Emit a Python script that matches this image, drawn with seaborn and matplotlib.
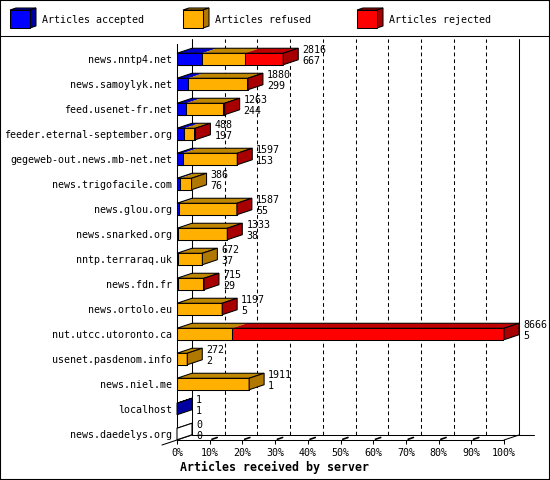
import numpy as np
import pandas as pd
import matplotlib
matplotlib.use("Agg")
import matplotlib.pyplot as plt
from matplotlib.patches import Polygon, Rectangle
from matplotlib.lines import Line2D
import seaborn as sns

# data
servers = ["news.nntp4.net", "news.samoylyk.net", "feed.usenet-fr.net",
           "feeder.eternal-september.org", "gegeweb-out.news.mb-net.net",
           "news.trigofacile.com", "news.glou.org", "news.snarked.org",
           "nntp.terraraq.uk", "news.fdn.fr", "news.ortolo.eu",
           "nut.utcc.utoronto.ca", "usenet.pasdenom.info", "news.niel.me",
           "localhost", "news.daedelys.org"]
total = [2816, 1880, 1263, 488, 1597, 386, 1587, 1333, 672, 715, 1197, 8666, 272, 1911, 1, 0]
accepted = [667, 299, 244, 197, 153, 76, 55, 38, 37, 29, 5, 5, 2, 1, 1, 0]
refused = [1130, 1560, 975, 265, 1424, 310, 1522, 1280, 635, 671, 1177, 1458, 270, 1910, 0, 0]
rejected = [1019, 21, 44, 26, 20, 0, 10, 15, 0, 15, 15, 7203, 0, 0, 0, 0]
tick_labels = ["0%", "10%", "20%", "30%", "40%", "50%", "60%", "70%", "80%", "90%", "100%"]

keys = ["accepted", "refused", "rejected"]
legend_labels = ["Articles accepted", "Articles refused", "Articles rejected"]
front_col = {"accepted": "#0000ff", "refused": "#ffb000", "rejected": "#ff0000"}
top_col = {"accepted": "#0000c8", "refused": "#c08800", "rejected": "#c00000"}
side_col = {"accepted": "#0000a0", "refused": "#b07800", "rejected": "#a80000"}

sns.set_theme(style="white")
plt.rcParams["font.family"] = ["DejaVu Sans Mono"]
plt.rcParams["font.size"] = 7.2
for k in ["text.color", "axes.labelcolor", "xtick.color", "ytick.color"]:
    plt.rcParams[k] = "black"

W, H = 550, 480
fig = plt.figure(figsize=(W / 100, H / 100), dpi=100)
fig.patch.set_facecolor("white")

# plot area (pixels): front 0% .. 100%, top .. floor
ax_l, ax_r, ax_t, ax_b = 177, 504, 44, 440
row0, pitch = 59, 25
ax = fig.add_axes([ax_l / W, 1 - ax_b / H, (ax_r - ax_l) / W, (ax_b - ax_t) / H])

df = pd.DataFrame({"server": servers, "accepted": accepted,
                   "refused": refused, "rejected": rejected})
df["acc_ref"] = df["accepted"] + df["refused"]
df["acc_ref_rej"] = df["acc_ref"] + df["rejected"]

lw = 0.75
for col, key in [("acc_ref_rej", "rejected"), ("acc_ref", "refused"), ("accepted", "accepted")]:
    sns.barplot(data=df, x=col, y="server", orient="h", color=front_col[key],
                saturation=1, width=0.46, edgecolor="black", linewidth=lw,
                zorder=2, ax=ax)

xmax = max(total)
ytop = (ax_t - row0) / pitch
ybot = (ax_b - row0) / pitch
ax.set_xlim(0, xmax)
ax.set_ylim(ybot, ytop)

dx = 15 * xmax / (ax_r - ax_l)   # depth offset, 15 px
dy = 5 / pitch                   # depth offset, 5 px
h = 0.23

# back wall, floor and grid
ax.plot([dx, dx], [ybot - dy, ytop - dy], color="black", lw=lw, clip_on=False, zorder=1)
ax.plot([xmax + dx, xmax + dx], [ybot - dy, ytop - dy], color="black", lw=lw, clip_on=False, zorder=1)
ax.plot([dx, xmax + 2 * dx], [ybot - dy, ybot - dy], color="black", lw=lw, clip_on=False, zorder=1)
ax.plot([-dx, dx], [ybot + dy, ybot - dy], color="black", lw=lw, clip_on=False, zorder=1)
ax.plot([xmax, xmax + dx], [ybot, ybot - dy], color="black", lw=lw, clip_on=False, zorder=1)
xt = [xmax * k / 10 for k in range(11)]
for x in xt[1:-1]:
    ax.plot([x + dx, x + dx], [ybot - dy, ytop - dy], color="black", lw=lw,
            dashes=(3.6, 2.9), clip_on=False, zorder=1)
    ax.plot([x + 0.15 * dx, x + 0.5 * dx], [ybot - 0.15 * dy, ybot - 0.5 * dy],
            color="black", lw=1.2, clip_on=False, zorder=1)

# 3d tops and sides of the bars
for i in range(len(servers)):
    s = 0
    last = None
    for key, v in zip(keys, [accepted[i], refused[i], rejected[i]]):
        if v > 0:
            e = s + v
            ax.add_patch(Polygon([(s, i - h), (e, i - h), (e + dx, i - h - dy), (s + dx, i - h - dy)],
                                 closed=True, facecolor=top_col[key], edgecolor="none",
                                 zorder=3, clip_on=False))
            last = key
            s = e
    ax.add_patch(Polygon([(0, i - h), (s, i - h), (s + dx, i - h - dy), (dx, i - h - dy)],
                         closed=True, fill=False, edgecolor="black", lw=lw,
                         zorder=3.5, clip_on=False))
    ax.add_patch(Polygon([(s, i - h), (s, i + h), (s + dx, i + h - dy), (s + dx, i - h - dy)],
                         closed=True, facecolor=side_col[last] if last else "white",
                         edgecolor="black", lw=lw, zorder=3.5, clip_on=False))
    ax.annotate(str(total[i]), xy=(s, i), xytext=(19, 9), textcoords="offset pixels",
                ha="left", va="center", fontsize=7.2, zorder=4)
    ax.annotate(str(accepted[i]), xy=(s, i), xytext=(19, -2), textcoords="offset pixels",
                ha="left", va="center", fontsize=7.2, zorder=4)

ax.set_xticks(xt)
ax.set_xticklabels(tick_labels)
ax.tick_params(axis="x", direction="out", length=2.9, width=lw, pad=3, labelsize=7.2, bottom=True)
ax.tick_params(axis="y", length=0, pad=3.6, labelsize=7.2)
ax.set_xlabel("")
ax.set_ylabel("")
for sp in ["top", "right"]:
    ax.spines[sp].set_visible(False)
for sp in ["left", "bottom"]:
    ax.spines[sp].set_color("black")
    ax.spines[sp].set_linewidth(lw)
ax.set_facecolor("none")

fig.text(180 / W, 1 - 467 / H, "Articles received by server", ha="left", va="center",
         fontsize=8.4, fontweight="bold")

# legend band
lax = fig.add_axes([0, 1 - 35 / H, 1, 35 / H])
lax.set_xlim(0, W)
lax.set_ylim(35, 0)
lax.axis("off")
for x0, key, lab in zip([10, 183, 357], keys, legend_labels):
    lax.add_patch(Polygon([(x0, 10), (x0 + 20, 10), (x0 + 26, 8), (x0 + 6, 8)], closed=True,
                          facecolor=top_col[key], edgecolor="black", lw=lw))
    lax.add_patch(Polygon([(x0 + 20, 10), (x0 + 20, 28), (x0 + 26, 26), (x0 + 26, 8)], closed=True,
                          facecolor=side_col[key], edgecolor="black", lw=lw))
    lax.add_patch(Rectangle((x0, 10), 20, 18, facecolor=front_col[key], edgecolor="black", lw=lw))
    lax.text(x0 + 32, 20, lab, ha="left", va="center", fontsize=7.2)

fig.add_artist(Line2D([0, 1], [1 - 35.5 / H] * 2, transform=fig.transFigure, color="black", lw=lw))
fig.add_artist(Rectangle((0, 0), 1, 1, transform=fig.transFigure, fill=False,
                         edgecolor="black", lw=1.5))

fig.savefig("out.png", dpi=100)
